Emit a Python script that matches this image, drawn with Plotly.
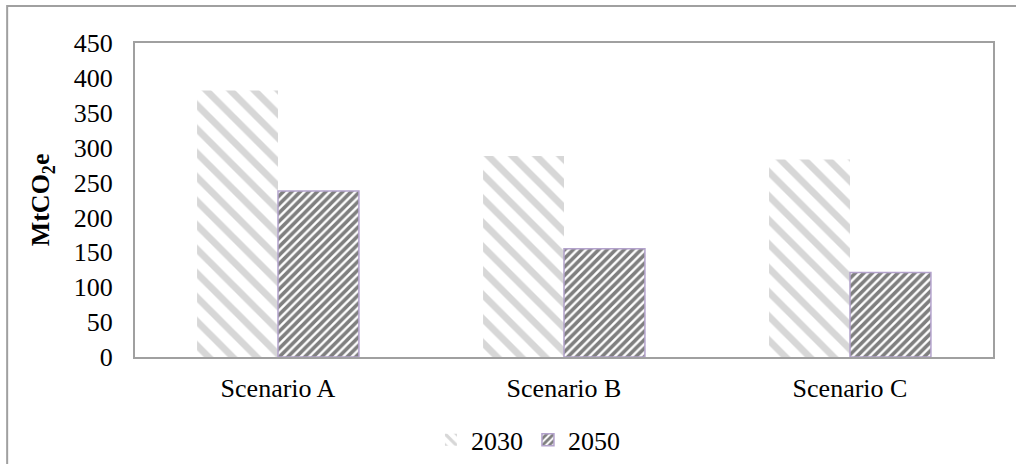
import plotly.graph_objects as go

scenarios = ["Scenario A", "Scenario B", "Scenario C"]
values_2030 = [382, 288, 283]
values_2050 = [238, 155, 121]
y_ticks = [0, 50, 100, 150, 200, 250, 300, 350, 400, 450]

FONT = "Liberation Serif, Times New Roman, serif"

fig = go.Figure()
fig.add_trace(go.Bar(
    name="2030", x=scenarios, y=values_2030,
    marker=dict(
        color="white",
        line=dict(width=0),
        pattern=dict(shape="\\", fgcolor="#b0b0b0", bgcolor="white",
                     size=17, solidity=0.4, fillmode="overlay"),
    ),
))
fig.add_trace(go.Bar(
    name="2050", x=scenarios, y=values_2050,
    marker=dict(
        color="white",
        line=dict(width=1.5, color="#b3a2cc"),
        pattern=dict(shape="/", fgcolor="#000000", bgcolor="white",
                     size=6, solidity=0.6, fillmode="overlay"),
    ),
))

fig.update_layout(
    width=1016, height=464,
    margin=dict(l=135, r=23, t=43, b=107, autoexpand=False),
    paper_bgcolor="white", plot_bgcolor="white",
    barmode="group", bargap=0.434, bargroupgap=0,
    font=dict(family=FONT, size=26, color="black"),
    showlegend=True,
    legend=dict(orientation="h", x=0.458, xanchor="center",
                yref="container", y=0.052, yanchor="middle",
                font=dict(family=FONT, size=26), itemwidth=30, tracegroupgap=0),
    xaxis=dict(showline=True, linecolor="#a0a0a0", linewidth=2, mirror=True,
               ticks="", showgrid=False, ticklabelstandoff=7, automargin=False),
    yaxis=dict(range=[0, 450], tickvals=y_ticks, showline=True, linecolor="#a0a0a0",
               linewidth=2, mirror=True, ticks="", showgrid=False, zeroline=False,
               ticklabelstandoff=15, automargin=False),
    annotations=[dict(text="<b>MtCO<sub>2</sub>e</b>", xref="paper", yref="paper",
                      x=-0.108, y=0.5, xanchor="center", yanchor="middle",
                      textangle=-90, showarrow=False,
                      font=dict(family=FONT, size=26))],
    shapes=[dict(type="rect", xref="paper", yref="paper",
                 x0=-0.149, x1=1.2, y0=-0.6, y1=1.118,
                 line=dict(color="#a0a0a0", width=2), layer="below")],
)

fig.write_html("out.html")
